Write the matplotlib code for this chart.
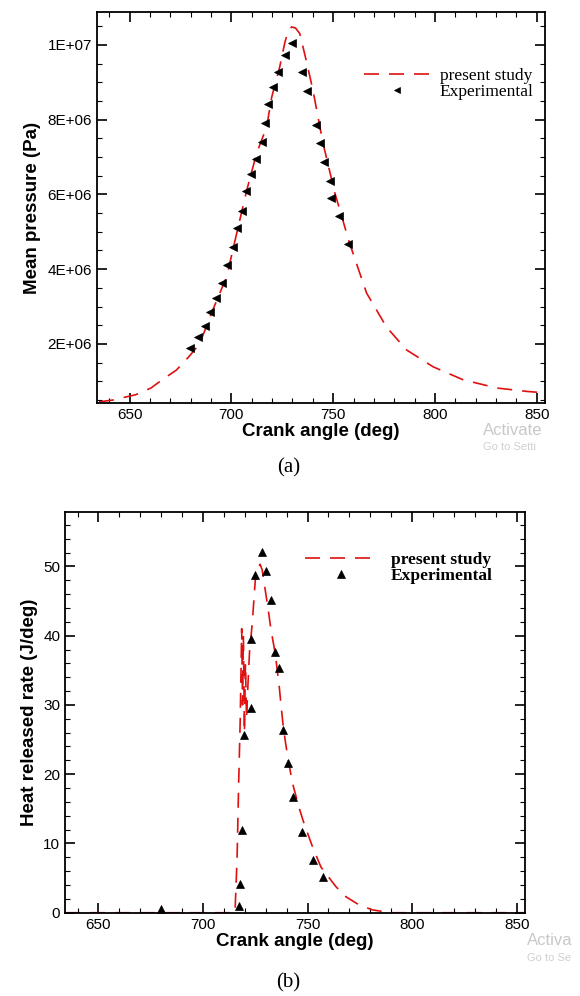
import numpy as np
import matplotlib
matplotlib.use('Agg')
import matplotlib.pyplot as plt
from matplotlib.ticker import MultipleLocator, FuncFormatter

# ---- data ----
# (a) mean pressure
p_sim_x = [635, 642, 646.5, 653, 660.5, 666, 673, 679, 684.4, 690.8, 697.7, 703, 707.5,
           712.4, 717.3, 719.8, 723.7, 726.2, 727.8, 729.6, 731.5, 733.6, 736.9, 740,
           745, 750.8, 758, 766.4, 776.2, 786, 799, 813.8, 830.4, 845, 854]
p_sim_y = [0.45e6, 0.5e6, 0.56e6, 0.64e6, 0.82e6, 1.04e6, 1.3e6, 1.65e6, 2.0e6, 2.9e6,
           3.8e6, 5.05e6, 6.1e6, 7.1e6, 7.8e6, 8.6e6, 9.4e6, 10.05e6, 10.35e6, 10.48e6,
           10.45e6, 10.3e6, 9.55e6, 8.8e6, 7.37e6, 6.04e6, 4.7e6, 3.36e6, 2.45e6, 1.84e6,
           1.39e6, 1.04e6, 0.82e6, 0.73e6, 0.69e6]

p_exp_x = [679.5, 683.6, 686.9, 689.7, 692.3, 695.4, 697.8, 700.8, 702.7, 705.4, 707.0,
           709.5, 712.3, 715.2, 716.7, 718.0, 720.5, 722.9, 726.2, 729.8, 734.9, 736.9,
           741.4, 743.7, 745.4, 748.3, 748.7, 752.9, 757.3]
p_exp_y = [1.89e6, 2.19e6, 2.48e6, 2.86e6, 3.23e6, 3.63e6, 4.11e6, 4.59e6, 5.1e6, 5.56e6,
           6.09e6, 6.55e6, 6.95e6, 7.4e6, 7.9e6, 8.42e6, 8.88e6, 9.28e6, 9.73e6, 10.05e6,
           9.28e6, 8.77e6, 7.86e6, 7.37e6, 6.87e6, 6.36e6, 5.9e6, 5.42e6, 4.67e6]

# (b) heat release rate
q_sim_x = [634, 715.3, 716.3, 717.0, 717.8, 718.5, 718.9, 719.3, 719.8, 720.3, 720.8,
           721.5, 722.3, 723.0, 723.6, 724.3, 725.0, 726.0, 727.3, 728.3, 729.3, 730.3,
           731.3, 732.3, 733.3, 734.5, 735.5, 736.5, 737.3, 738.5, 740.5, 742.8, 746,
           748.4, 752.4, 756.4, 763.6, 768.4, 774.8, 781.2, 790, 820, 854]
q_sim_y = [0, 0, 8, 18, 28, 41, 30, 40, 26, 36, 28, 33, 38, 40, 42, 45, 48, 49.5,
           50.3, 49.5, 47.5, 45.5, 43.5, 41.3, 39.5, 37.5, 35, 32.5, 30, 26.5, 22.5,
           18.7, 15.1, 12.8, 9.5, 6.6, 3.75, 2.3, 1.1, 0.4, 0, 0, 0]

q_exp_x = [679.9, 717.2, 717.7, 718.8, 719.6, 723.1, 722.8, 724.9, 728.1, 730.0, 732.6,
           734.5, 736.4, 738.3, 740.6, 742.8, 747.3, 752.4, 757.2]
q_exp_y = [0.5, 0.97, 4.2, 12.0, 25.6, 29.6, 39.5, 48.7, 52.1, 49.3, 45.1, 37.7, 35.4,
           26.4, 21.6, 16.7, 11.7, 7.6, 5.2]

red = '#e01010'
sans = 'Liberation Sans'
serif = 'Liberation Serif'
plt.rcParams['font.family'] = sans

fig = plt.figure(figsize=(5.8, 9.96), dpi=100)
ax1 = fig.add_axes([0.1672, 0.5954, 0.7724, 0.3926])
ax2 = fig.add_axes([0.1121, 0.0836, 0.7931, 0.4020])


def style(ax):
    ax.tick_params(which='both', direction='in', top=True, right=True, labelsize=11)
    ax.tick_params(which='major', length=7, width=1.2)
    ax.tick_params(which='minor', length=3.5, width=0.8)
    for s in ax.spines.values():
        s.set_linewidth(1.3)
    ax.xaxis.set_major_locator(MultipleLocator(50))
    ax.xaxis.set_minor_locator(MultipleLocator(10))
    ax.set_xlim(634, 854)
    ax.set_xlabel('Crank angle (deg)', fontsize=13.5, fontweight='bold', labelpad=1)


# ---- (a) ----
ax1.plot(p_sim_x, p_sim_y, color=red, lw=1.2, dashes=(9, 6), label='present study')
ax1.plot(p_exp_x, p_exp_y, ls='none', marker='<', color='black', ms=5.5, mew=0.5,
         label='Experimental')
style(ax1)
ax1.set_ylim(0.42e6, 1.088e7)
ax1.yaxis.set_major_locator(MultipleLocator(2e6))
ax1.yaxis.set_minor_locator(MultipleLocator(5e5))
ax1.yaxis.set_major_formatter(FuncFormatter(lambda v, p: format(v, '.0E')))
ax1.set_ylabel('Mean pressure (Pa)', fontsize=13.5, fontweight='bold', labelpad=5)
ax1.legend(loc='upper left', bbox_to_anchor=(0.597, 0.858), frameon=False,
           prop={'family': serif, 'size': 12.5}, handlelength=3.8, handletextpad=0.55,
           labelspacing=0.0, borderpad=0, borderaxespad=0, markerscale=0.9)

# ---- (b) ----
ax2.plot(q_sim_x, q_sim_y, color=red, lw=1.2, dashes=(9, 6), label='present study')
ax2.plot(q_exp_x, q_exp_y, ls='none', marker='^', color='black', ms=6, mew=0.5,
         clip_on=False, label='Experimental')
style(ax2)
ax2.set_ylim(0, 57.8)
ax2.yaxis.set_major_locator(MultipleLocator(10))
ax2.yaxis.set_minor_locator(MultipleLocator(2))
ax2.set_ylabel('Heat released rate (J/deg)', fontsize=13.5, fontweight='bold', labelpad=4)
ax2.legend(loc='upper left', bbox_to_anchor=(0.522, 0.902), frameon=False,
           prop={'family': serif, 'size': 12.5, 'weight': 'bold'}, handlelength=4.1,
           handletextpad=0.85, labelspacing=0.0, borderpad=0, borderaxespad=0)

# captions
fig.text(0.497, 0.530, '(a)', ha='center', va='center', family=serif, fontsize=15)
fig.text(0.497, 0.013, '(b)', ha='center', va='center', family=serif, fontsize=15)

# screenshot watermark
fig.text(0.833, 0.568, 'Activate', color='#c8c8c8', fontsize=12, va='center')
fig.text(0.833, 0.551, 'Go to Setti', color='#d0d0d0', fontsize=8, va='center')
fig.text(0.908, 0.056, 'Activa', color='#c8c8c8', fontsize=12, va='center')
fig.text(0.908, 0.038, 'Go to Se', color='#d0d0d0', fontsize=8, va='center')

fig.savefig('out.png', dpi=100)
